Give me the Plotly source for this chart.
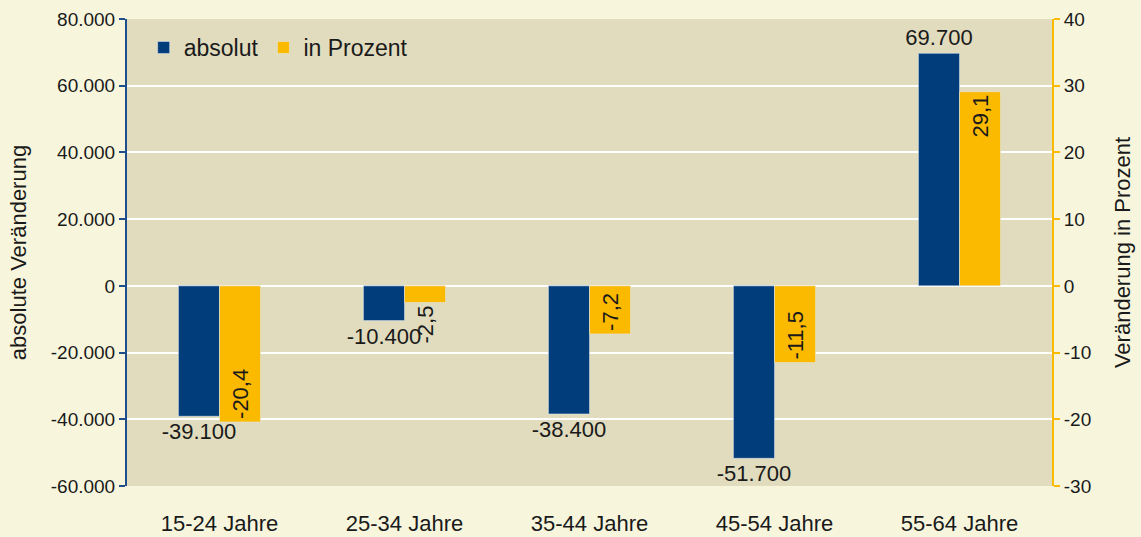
import plotly.graph_objects as go

categories = ["15-24 Jahre", "25-34 Jahre", "35-44 Jahre", "45-54 Jahre", "55-64 Jahre"]
absolut = [-39100, -10400, -38400, -51700, 69700]
prozent = [-20.4, -2.5, -7.2, -11.5, 29.1]

left_tickvals = [-60000, -40000, -20000, 0, 20000, 40000, 60000, 80000]
left_ticktext = ["-60.000", "-40.000", "-20.000", "0", "20.000", "40.000", "60.000", "80.000"]
right_tickvals = [-30, -20, -10, 0, 10, 20, 30, 40]
right_ticktext = ["-30", "-20", "-10", "0", "10", "20", "30", "40"]

BLUE = "#003d7a"
YELLOW = "#fbb900"
FONT = "Liberation Sans, Arial, sans-serif"
TXT = "#1a1a1a"

abs_text = [f"{v:,}".replace(",", ".") for v in absolut]
pct_text = [f"{v:.1f}".replace(".", ",") for v in prozent]
pct_pos = ["inside", "outside", "inside", "inside", "inside"]

fig = go.Figure()
fig.add_trace(go.Bar(
    x=categories, y=absolut, name="absolut", marker_color=BLUE,
    offsetgroup="a", yaxis="y",
    text=abs_text, textposition="outside",
    textfont=dict(size=22, color=TXT, family=FONT),
    cliponaxis=False, hoverinfo="x+y",
))
fig.add_trace(go.Bar(
    x=categories, y=prozent, name="in Prozent", marker_color=YELLOW,
    offsetgroup="b", yaxis="y2",
    text=pct_text, textposition=pct_pos, insidetextanchor="end",
    textangle=-90,
    textfont=dict(size=22, color=TXT, family=FONT),
    cliponaxis=False, hoverinfo="x+y",
))

fig.update_layout(
    width=1141, height=537,
    barmode="group", bargap=0.556, bargroupgap=0,
    paper_bgcolor="#f7f6dd", plot_bgcolor="#e1dcbe",
    font=dict(family=FONT, size=20, color=TXT),
    margin=dict(l=127, r=89, t=19, b=51, autoexpand=False),
    uniformtext=dict(minsize=22, mode="show"),
    showlegend=True,
    legend=dict(orientation="h", x=0.018, y=0.985, xanchor="left", yanchor="top",
                bgcolor="rgba(0,0,0,0)", font=dict(size=23, color=TXT),
                itemwidth=30, tracegroupgap=0),
    xaxis=dict(showgrid=False, ticks="", showline=False, ticklabelstandoff=22,
               tickfont=dict(size=22), automargin=False),
    yaxis=dict(range=[-60000, 80000], tickvals=left_tickvals, ticktext=left_ticktext,
               showgrid=True, gridcolor="white", gridwidth=2, zeroline=False,
               showline=True, linecolor="#1f4e8c", linewidth=2,
               ticks="outside", tickcolor="#1f4e8c", ticklen=6, tickwidth=2,
               tickfont=dict(size=19), automargin=False,
               title=dict(text="absolute Veränderung", font=dict(size=22), standoff=18)),
    yaxis2=dict(range=[-30, 40], tickvals=right_tickvals, ticktext=right_ticktext,
                overlaying="y", side="right",
                showgrid=False, zeroline=False,
                showline=True, linecolor=YELLOW, linewidth=2,
                ticks="outside", tickcolor=YELLOW, ticklen=6, tickwidth=2,
                tickfont=dict(size=19), automargin=False,
                title=dict(text="Veränderung in Prozent", font=dict(size=22), standoff=24)),
)

fig.write_html("out.html", config={"displayModeBar": False},
               post_script="document.body.style.margin='0';document.body.style.overflow='hidden';")
